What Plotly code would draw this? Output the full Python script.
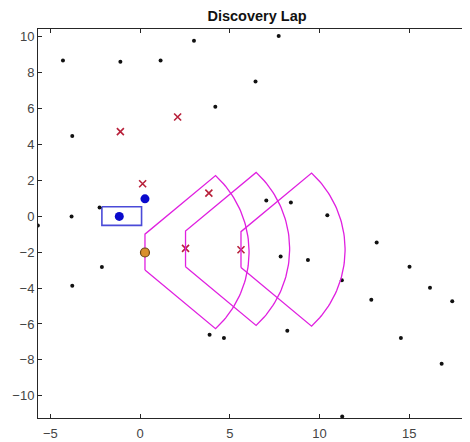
import numpy as np
import plotly.graph_objects as go

# Landmarks (black dots)
lm_x = [-4.30, -1.10, 1.14, -3.78, 3.00, 7.72, 6.43, 4.19, -3.82, -2.26, -5.70, -2.13, -3.78,
        7.03, 8.40, 10.43, 7.83, 9.35, 11.24, 3.87, 4.67, 8.20, 13.18, 15.01, 16.15, 12.88,
        17.39, 14.53, 16.80, 11.26]
lm_y = [8.68, 8.61, 8.68, 4.47, 9.78, 10.04, 7.51, 6.10, -0.01, 0.49, -0.51, -2.83, -3.87,
        0.88, 0.77, 0.05, -2.24, -2.44, -3.56, -6.60, -6.79, -6.38, -1.46, -2.81, -3.98, -4.65,
        -4.74, -6.79, -8.22, -11.15]

# Discovered landmarks (red crosses)
disc_x = [-1.10, 2.09, 0.14, 3.83, 2.53, 5.62]
disc_y = [4.71, 5.53, 1.81, 1.29, -1.79, -1.87]

# Blue markers
blue_x = [0.27, -1.16]
blue_y = [0.97, -0.01]

# Vehicle box corners
box_x = [-2.13, 0.08, 0.08, -2.13, -2.13]
box_y = [0.53, 0.53, -0.51, -0.51, 0.53]

# Sensor positions
sens_x = [0.27, 2.53, 5.62]
sens_y = [-2.00, -1.82, -1.86]
fov_range = 5.8
fov_halfwidth = 1.0
fov_angle_deg = 47.3

# Current sensor (orange)
cur_x = [0.27]
cur_y = [-2.02]

fig = go.Figure()

fig.add_trace(go.Scatter(x=box_x, y=box_y, mode="lines",
                         line=dict(color="#4a4ad8", width=1.6), hoverinfo="skip"))

fig.add_trace(go.Scatter(x=lm_x, y=lm_y, mode="markers",
                         marker=dict(color="#111111", size=4)))

fig.add_trace(go.Scatter(x=disc_x, y=disc_y, mode="markers",
                         marker=dict(symbol="x-thin", size=7,
                                     line=dict(color="#b8203a", width=1.6))))

fig.add_trace(go.Scatter(x=blue_x, y=blue_y, mode="markers",
                         marker=dict(color="#0a0acc", size=9)))

a = np.deg2rad(fov_angle_deg)
th = np.linspace(a, -a, 60)
for sx, sy in zip(sens_x, sens_y):
    px = [sx, sx] + list(sx + fov_range * np.cos(th)) + [sx]
    py = [sy - fov_halfwidth, sy + fov_halfwidth] + list(sy + fov_range * np.sin(th)) + [sy - fov_halfwidth]
    fig.add_trace(go.Scatter(x=px, y=py, mode="lines",
                             line=dict(color="#e020e0", width=1.3), hoverinfo="skip"))

fig.add_trace(go.Scatter(x=cur_x, y=cur_y, mode="markers",
                         marker=dict(color="#d9902e", size=9,
                                     line=dict(color="#6b4416", width=1.2))))

fig.update_layout(
    width=462, height=434,
    margin=dict(l=30, r=0, t=21, b=24),
    paper_bgcolor="white", plot_bgcolor="white",
    showlegend=False,
    title=dict(text="<b>Discovery Lap</b>", x=0.507, xref="paper", xanchor="center",
               y=1 - 8 / 434, yref="container", yanchor="middle",
               font=dict(family="Liberation Sans, Arial", size=14.5, color="#111111")),
    font=dict(family="Liberation Sans, Arial", size=13, color="#444444"),
)
fig.update_xaxes(range=[-5.69, 18.38], showgrid=False, zeroline=False,
                 tickvals=[-5, 0, 5, 10, 15], ticks="inside", ticklen=4, tickcolor="#262626",
                 ticklabelstandoff=3,
                 showline=True, linecolor="#262626", linewidth=1, mirror="ticks")
fig.update_yaxes(range=[-11.24, 10.43], showgrid=False, zeroline=False,
                 tickvals=[-10, -8, -6, -4, -2, 0, 2, 4, 6, 8, 10], ticks="inside", ticklen=4,
                 tickcolor="#262626", showline=True, linecolor="#262626", linewidth=1,
                 mirror=False)

fig.write_html("out.html")
